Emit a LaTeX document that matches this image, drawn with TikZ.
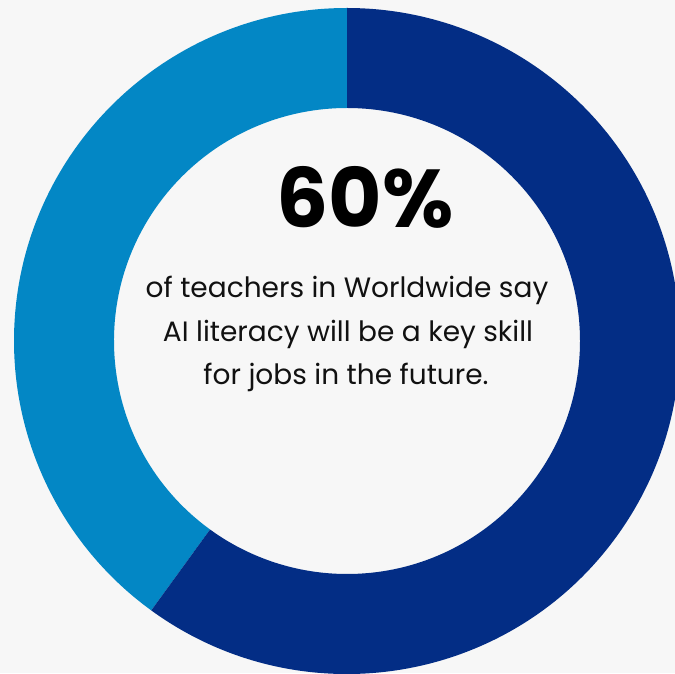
\documentclass[tikz,border=0pt]{standalone}
\usepackage{fontspec}
\setmainfont{Poppins}
\usetikzlibrary{calc}
\definecolor{bgc}{HTML}{F7F7F7}
\definecolor{lightseg}{HTML}{0387C5}
\definecolor{darkseg}{HTML}{032D85}
\definecolor{txt}{HTML}{111111}
\begin{document}
\begin{tikzpicture}[x=1pt,y=1pt,
  bodytext/.style={anchor=base,inner sep=0pt,text=txt,font=\fontsize{28}{32}\selectfont},
  bigtext/.style={anchor=base,inner sep=0pt,text=black,font=\fontsize{82}{90}\selectfont\bfseries}]
\fill[bgc] (0,0) rectangle (675,673);
\useasboundingbox (0,0) rectangle (675,673);
\coordinate (C) at (347,332);
\fill[lightseg] ($(C)+(90:333)$) arc[start angle=90,end angle=234,radius=333]
  -- ($(C)+(234:233)$) arc[start angle=234,end angle=90,radius=233] -- cycle;
\fill[darkseg] ($(C)+(234:333)$) arc[start angle=234,end angle=450,radius=333]
  -- ($(C)+(90:233)$) arc[start angle=90,end angle=-126,radius=233] -- cycle;
\node[bigtext] (pct) at (365,445) {60\%};
\node[bodytext] (l1) at (347,375) {of teachers in Worldwide say};
\node[bodytext] (l2) at (348,331) {AI literacy will be a key skill};
\node[bodytext] (l3) at (346,288) {for jobs in the future.};
\end{tikzpicture}
\end{document}
